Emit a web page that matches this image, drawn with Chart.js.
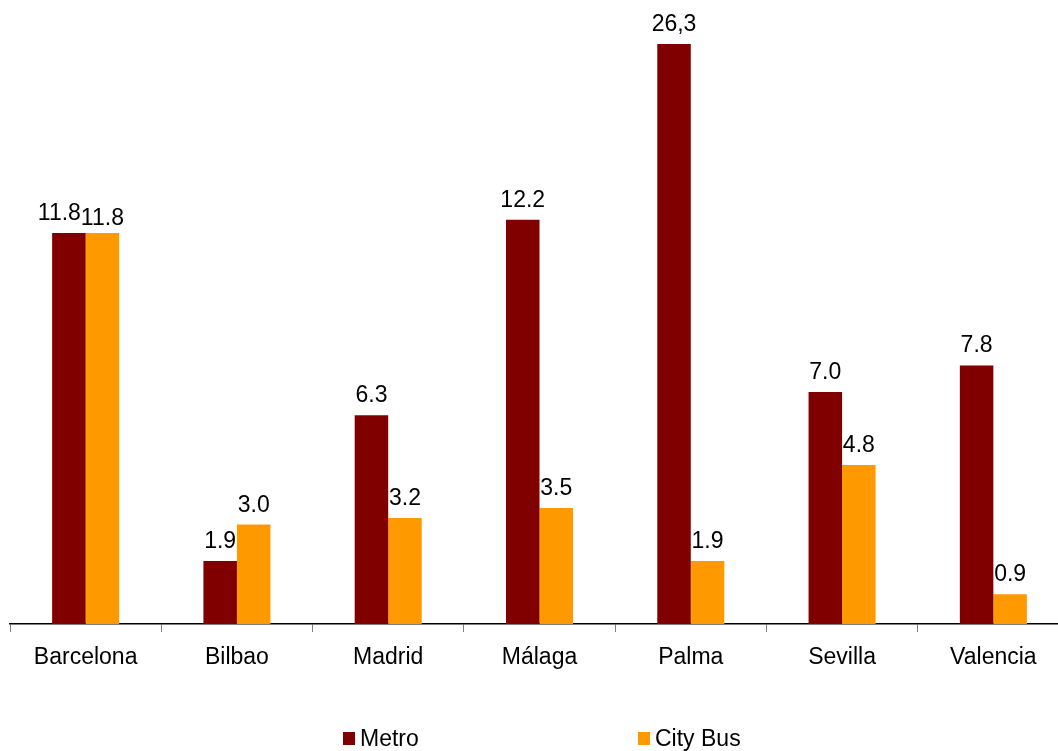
<!DOCTYPE html>
<html>
<head>
<meta charset="utf-8">
<title>Metro vs City Bus</title>
<script src="https://cdn.jsdelivr.net/npm/chart.js@4.4.0/dist/chart.umd.min.js"></script>
<style>
    html, body { margin: 0; padding: 0; background: #fff; overflow: hidden; }
    #chart-box { width: 1058px; height: 751px; overflow: hidden; }
    canvas { display: block; }
</style>
</head>
<body>
<div id="chart-box">
    <canvas id="transport-chart" width="1070" height="751"></canvas>
</div>
<script>
const cities = ['Barcelona', 'Bilbao', 'Madrid', 'Málaga', 'Palma', 'Sevilla', 'Valencia'];
const metroValues = [11.8, 1.9, 6.3, 12.2, 26.3, 7.0, 7.8];
const busValues = [11.8, 3.0, 3.2, 3.5, 1.9, 4.8, 0.9];
const metroLabels = ['11.8', '1.9', '6.3', '12.2', '26,3', '7.0', '7.8'];
const busLabels = ['11.8', '3.0', '3.2', '3.5', '1.9', '4.8', '0.9'];

const FONT = '"Liberation Sans", Arial, sans-serif';

document.addEventListener("DOMContentLoaded", function () {
    const ctx = document.getElementById('transport-chart').getContext('2d');

    // value labels above each bar (Palma bar is cut at the top of the plot)
    const valueLabels = {
        id: 'valueLabels',
        afterDatasetsDraw(chart) {
            const c = chart.ctx;
            const area = chart.chartArea;
            const texts = [metroLabels, busLabels];
            c.save();
            c.font = '23px ' + FONT;
            c.fillStyle = '#000';
            c.textAlign = 'center';
            c.textBaseline = 'alphabetic';
            const m0 = chart.getDatasetMeta(0).data;
            const m1 = chart.getDatasetMeta(1).data;
            m0.forEach(function (bar, i) {
                const other = m1[i];
                let x0 = bar.x, y0 = Math.max(bar.y, area.top) - 13;
                let x1 = other.x, y1 = Math.max(other.y, area.top) - 13;
                const w0 = c.measureText(texts[0][i]).width;
                const w1 = c.measureText(texts[1][i]).width;
                const overlap = (x0 + w0 / 2) - (x1 - w1 / 2);
                if (Math.abs(y0 - y1) < 20 && overlap > 0) {
                    x0 -= overlap;
                    y1 += 5;
                }
                c.fillText(texts[0][i], x0, y0);
                c.fillText(texts[1][i], x1, y1);
            });
            c.restore();
        }
    };

    // legend with wide spacing between the two entries
    const wideLegend = {
        id: 'wideLegend',
        afterDraw(chart) {
            const c = chart.ctx;
            c.save();
            c.font = '23px ' + FONT;
            c.textBaseline = 'alphabetic';
            c.textAlign = 'left';
            chart.data.datasets.forEach(function (ds, i) {
                const x = 343 + i * 295;
                c.fillStyle = ds.backgroundColor;
                c.fillRect(x, 732, 12, 13);
                c.fillStyle = '#000';
                c.fillText(ds.label, x + 17, 746);
            });
            c.restore();
        }
    };

    new Chart(ctx, {
        type: 'bar',
        data: {
            labels: cities,
            datasets: [
                {
                    label: 'Metro',
                    data: metroValues,
                    backgroundColor: '#800000',
                    borderWidth: 0,
                    categoryPercentage: 0.443,
                    barPercentage: 1
                },
                {
                    label: 'City Bus',
                    data: busValues,
                    backgroundColor: '#FF9900',
                    borderWidth: 0,
                    categoryPercentage: 0.443,
                    barPercentage: 1
                }
            ]
        },
        options: {
            responsive: false,
            animation: false,
            layout: { padding: { left: 10, right: 1, top: 44, bottom: 0 } },
            plugins: {
                legend: { display: false },
                tooltip: { enabled: false }
            },
            scales: {
                x: {
                    afterFit: function (scale) { scale.height = 127; },
                    grid: {
                        offset: true,
                        drawOnChartArea: false,
                        tickLength: 8,
                        tickColor: '#808080',
                        tickWidth: 1
                    },
                    border: { display: true, color: '#000', width: 1.5 },
                    ticks: {
                        color: '#000',
                        padding: 12,
                        maxRotation: 0,
                        font: { family: FONT, size: 23 }
                    }
                },
                y: {
                    display: false,
                    min: 0,
                    max: 17.5
                }
            }
        },
        plugins: [valueLabels, wideLegend]
    });
});
</script>
</body>
</html>
